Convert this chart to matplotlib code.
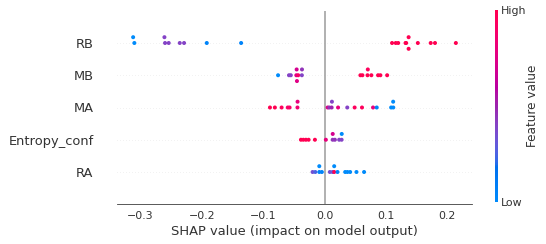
#!/usr/bin/env python3
import numpy as np
import matplotlib
matplotlib.use("Agg")
import matplotlib.pyplot as plt
from matplotlib.colors import LinearSegmentedColormap
from matplotlib.cm import ScalarMappable

# features, top to bottom
features = ["RB", "MB", "MA", "Entropy_conf", "RA"]

# SHAP values and (normalised) feature values
rb_shap = [-0.310, -0.312, -0.260, -0.261, -0.254, -0.236, -0.229, -0.192, -0.136,
           0.110, 0.116, 0.120, 0.132, 0.133, 0.137, 0.137, 0.152, 0.173, 0.180, 0.214]
rb_value = [0.0, 0.0, 0.4, 0.4, 0.4, 0.4, 0.4, 0.05, 0.05,
            1.0, 1.0, 1.0, 1.0, 1.0, 1.0, 1.0, 1.0, 1.0, 1.0, 1.0]

mb_shap = [-0.0758, -0.058, -0.055, -0.046, -0.0455, -0.045, -0.043, -0.037, -0.0368,
           0.0584, 0.0617, 0.0700, 0.0705, 0.0763, 0.0872, 0.091, 0.102]
mb_value = [0.0, 0.4, 0.4, 0.75, 0.7, 0.75, 0.9, 0.4, 0.45,
            1.0, 1.0, 1.0, 0.95, 1.0, 1.0, 1.0, 1.0]

ma_shap = [-0.089, -0.081, -0.070, -0.060, -0.057, -0.0442, -0.0440,
           0.005, 0.0077, 0.0115, 0.0120, 0.022, 0.037, 0.049, 0.061, 0.079, 0.085,
           0.1085, 0.112, 0.1118]
ma_value = [1.0, 1.0, 0.95, 0.9, 0.9, 0.85, 0.8,
            0.75, 0.45, 0.5, 0.4, 0.8, 0.4, 0.95, 0.95, 0.8, 0.05,
            0.0, 0.0, 0.0]

ent_shap = [-0.0385, -0.0346, -0.0304, -0.026, -0.0157, 0.0021,
            0.0132, 0.0133, 0.0168, 0.0238, 0.0278, 0.0280]
ent_value = [1.0, 1.0, 1.0, 1.0, 1.0, 0.8,
             0.45, 0.7, 0.45, 0.4, 0.4, 0.0]

ra_shap = [-0.0195, -0.0151, -0.0086, -0.0086, -0.0044, 0.0086, 0.013, 0.0157, 0.0157,
           0.0211, 0.0336, 0.0373, 0.0417, 0.052, 0.0644]
ra_value = [0.35, 0.25, 0.05, 0.0, 0.05, 0.35, 0.3, 1.0, 0.0,
            0.05, 0.0, 0.0, 0.0, 0.0, 0.0]

shap_rows = [rb_shap, mb_shap, ma_shap, ent_shap, ra_shap]
value_rows = [rb_value, mb_value, ma_value, ent_value, ra_value]

axis_color = "#333333"


def lch2rgb(l, c, h):
    # LCH -> Lab -> XYZ (D65) -> sRGB
    a, b = c * np.cos(h), c * np.sin(h)
    fy = (l + 16.0) / 116.0
    fx = a / 500.0 + fy
    fz = max(fy - b / 200.0, 0.0)
    xyz = []
    for f in (fx, fy, fz):
        xyz.append(f ** 3 if f > 0.2068966 else (f - 16.0 / 116.0) / 7.787)
    xyz = np.array(xyz) * np.array([0.95047, 1.0, 1.08883])
    m = np.array([[3.24048134, -1.53715152, -0.49853633],
                  [-0.96925495, 1.87599, 0.04155593],
                  [0.05564664, -0.20404134, 1.05731107]])
    rgb = m @ xyz
    rgb = np.where(rgb > 0.0031308, 1.055 * np.abs(rgb) ** (1 / 2.4) - 0.055, 12.92 * rgb)
    return np.clip(rgb, 0, 1)


def red_blue_cmap(nsteps=100):
    blue_lch = [54.0, 70.0, 4.6588]
    red_lch = [54.0, 90.0, 0.35470565 + 2 * np.pi]
    l_mid = 40.0
    l_vals = list(np.linspace(blue_lch[0], l_mid, nsteps // 2)) + \
        list(np.linspace(l_mid, red_lch[0], nsteps // 2))
    c_vals = np.linspace(blue_lch[1], red_lch[1], nsteps)
    h_vals = np.linspace(blue_lch[2], red_lch[2], nsteps)
    colors = [lch2rgb(l, c, h) for l, c, h in zip(l_vals, c_vals, h_vals)]
    return LinearSegmentedColormap.from_list("red_blue", colors)


def swarm_offsets(vals, row_height=0.4, nbins=100):
    vals = np.asarray(vals, dtype=float)
    quant = np.round(nbins * (vals - vals.min()) / (vals.max() - vals.min() + 1e-8))
    inds = np.argsort(quant, kind="stable")
    ys = np.zeros(len(vals))
    layer = 0
    last_bin = -1
    for ind in inds:
        if quant[ind] != last_bin:
            layer = 0
        ys[ind] = np.ceil(layer / 2) * ((layer % 2) * 2 - 1)
        layer += 1
        last_bin = quant[ind]
    ys *= 0.9 * (row_height / np.max(ys + 1))
    return ys


cmap = red_blue_cmap()

fig = plt.figure(figsize=(546 / 72, 244 / 72), dpi=72)
ax = fig.add_axes([117 / 546, 1 - 204.25 / 244, 355 / 546, 193.5 / 244])

n = len(features)
for i, (name, sv, fv) in enumerate(zip(features, shap_rows, value_rows)):
    pos = n - 1 - i
    ax.axhline(y=pos, color="#cccccc", lw=0.5, dashes=(1, 5), zorder=-1)
    ys = swarm_offsets(sv)
    ax.scatter(sv, pos + ys, c=fv, cmap=cmap, vmin=0, vmax=1, s=16,
               linewidth=0, zorder=3)

ax.axvline(x=0, color="#999999", zorder=-1)

ax.set_ylim(-1, n)
ax.set_yticks(range(n))
ax.set_yticklabels(features[::-1], fontsize=13, color=axis_color)
ax.tick_params(axis="y", length=20, left=False)
ax.tick_params(axis="x", length=0, pad=7, labelsize=11, labelcolor=axis_color)
for side in ["top", "right", "left"]:
    ax.spines[side].set_visible(False)
ax.spines["bottom"].set_color(axis_color)
ax.set_xlabel("SHAP value (impact on model output)", fontsize=13, color=axis_color)

# colour bar
cax = fig.add_axes([495 / 546, 1 - 202 / 244, 2.5 / 546, 192 / 244])
sm = ScalarMappable(cmap=cmap)
sm.set_array([0, 1])
cb = fig.colorbar(sm, cax=cax, ticks=[0, 1])
cb.set_ticklabels(["Low", "High"])
cb.set_label("Feature value", size=12, labelpad=0, color=axis_color)
cb.ax.tick_params(labelsize=11, length=0, labelcolor=axis_color)
cb.outline.set_visible(False)

fig.savefig("out.png", dpi=72)
